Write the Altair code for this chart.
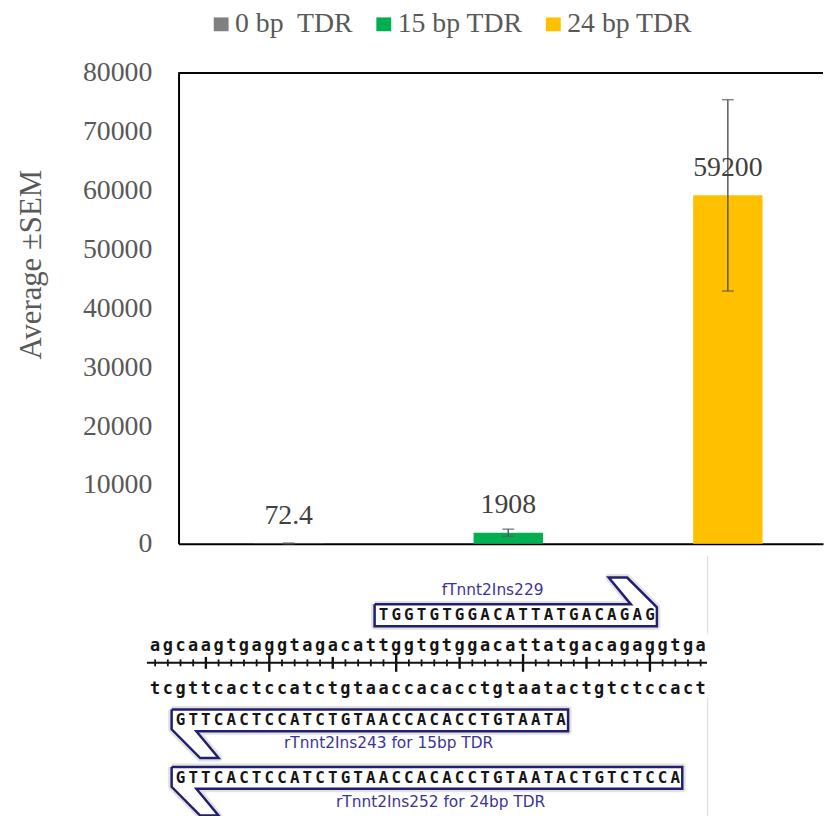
import altair as alt
import pandas as pd

# ---------------- data: bar chart ----------------
categories = ["0 bp\u00a0 TDR", "15 bp TDR", "24 bp TDR"]
averages = [72.4, 1908, 59200]
sems = [60, 590, 16250]
value_labels = ["72.4", "1908", "59200"]
bar_colors = ["#808080", "#00B050", "#FFC000"]
y_ticks = [0, 10000, 20000, 30000, 40000, 50000, 60000, 70000, 80000]

# ---------------- data: sequence diagram ----------------
top_strand = "agcaagtgaggtagacattggtgtggacattatgacagaggtga"
bottom_strand = "tcgttcactccatctgtaaccacacctgtaatactgtctccact"
primer_names = ["fTnnt2Ins229", "rTnnt2Ins243 for 15bp TDR", "rTnnt2Ins252 for 24bp TDR"]
primer_seqs = ["TGGTGTGGACATTATGACAGAG",
               "GTTCACTCCATCTGTAACCACACCTGTAATA",
               "GTTCACTCCATCTGTAACCACACCTGTAATACTGTCTCCA"]
primer_starts = [18, 2, 2]
primer_dirs = ["fwd", "rev", "rev"]

# ---------------- layout (diagram rows, in diagram units) ----------------
W, H = 650, 475
PAD_L, PAD_T, PAD_R, PAD_B = 172, 62, 2, 271
row_top, row_ruler, row_bottom = 88, 105, 131
primer_box = [(46, 68), (152, 174), (210, 232)]
label_rows = [32, 186, 245]
label_cols = [27.1, 18.9, 23.0]
hook = 27

# ---------------- bar chart ----------------
df = pd.DataFrame({
    "cat": categories,
    "avg": averages,
    "lo": [a - s for a, s in zip(averages, sems)],
    "hi": [a + s for a, s in zip(averages, sems)],
    "lab": value_labels,
})

xscale = alt.Scale(paddingInner=0.684, paddingOuter=0.3095, align=0.555)
yscale = alt.Scale(domain=[0, 80000], nice=False)
serif = "Liberation Serif"

x_axis = alt.Axis(title=None, labels=False, ticks=False,
                  domainColor="black", domainWidth=2)
y_axis = alt.Axis(values=y_ticks, format="d", grid=False, ticks=False,
                  domainColor="black", domainWidth=2,
                  labelFont=serif, labelFontSize=28, labelColor="#595959",
                  labelPadding=27,
                  title="Average ±SEM", titleFont=serif, titleFontSize=31,
                  titleFontWeight="normal", titleColor="#595959",
                  titleAngle=270, titleAlign="center", titleBaseline="middle",
                  titleX=-148, titleY=193)


def BX():
    return alt.X("cat:N", sort=categories, scale=xscale, axis=x_axis)


def BY(f):
    return alt.Y(f, type="quantitative", scale=yscale, axis=y_axis)


bars = alt.Chart(df).mark_bar().encode(
    x=BX(),
    y=BY("avg"),
    color=alt.Color("cat:N", sort=categories,
                    scale=alt.Scale(domain=categories, range=bar_colors),
                    legend=alt.Legend(orient="none", legendX=29, legendY=-63,
                                      direction="horizontal", title=None,
                                      symbolType="M-1,-0.93H1V0.93H-1Z",
                                      symbolSize=225, symbolStrokeWidth=0,
                                      symbolOpacity=1,
                                      labelFont=serif, labelFontSize=28,
                                      labelColor="#595959", labelOffset=0,
                                      columnPadding=17, padding=0)),
)

err = alt.Chart(df).mark_rule(color="#595959", strokeWidth=1.5).encode(
    x=BX(), y=BY("lo"), y2="hi:Q",
)
caps_lo = alt.Chart(df).mark_tick(color="#595959", size=12, thickness=1.5,
                                  orient="horizontal").encode(
    x=BX(), y=BY("lo"),
)
caps_hi = alt.Chart(df).mark_tick(color="#595959", size=12, thickness=1.5,
                                  orient="horizontal").encode(
    x=BX(), y=BY("hi"),
)
labels = alt.Chart(df).mark_text(font=serif, fontSize=28, color="#404040",
                                 baseline="bottom", dy=-14).encode(
    x=BX(), y=BY("avg"), text="lab:N",
)
top_border = alt.Chart(df).mark_rule(color="black", strokeWidth=1.5).encode(
    x=alt.value(0), x2=alt.value(W), y=alt.value(0)
)

bar_layer = alt.layer(bars, err, caps_lo, caps_hi, labels, top_border)

# ---------------- diagram ----------------
d_start = 490
dxs = alt.Scale(domain=[0, 44], range=[-30, 533], nice=False, zero=False)
dys = alt.Scale(domain=[0, 266], range=[d_start, d_start + 266], nice=False, zero=False)


def DX(f):
    return alt.X(f, type="quantitative", scale=dxs, axis=None)


def DY(f):
    return alt.Y(f, type="quantitative", scale=dys, axis=None)


# characters
strand_chars = []
for i, c in enumerate(top_strand):
    strand_chars.append({"bx": i + 0.5, "dy": row_top, "ch": c})
for i, c in enumerate(bottom_strand):
    strand_chars.append({"bx": i + 0.5, "dy": row_bottom, "ch": c})
strand_df = pd.DataFrame(strand_chars)

primer_chars = []
for seq, s, (t, b) in zip(primer_seqs, primer_starts, primer_box):
    for j, c in enumerate(seq):
        primer_chars.append({"bx": s + j + 0.5, "dy": (t + b) / 2, "ch": c})
primer_df = pd.DataFrame(primer_chars)

# ruler
ruler_rows = []
for i in range(len(top_strand)):
    half = 9 if (i + 1) % 10 == 0 else (6 if (i + 1) % 5 == 0 else 3.5)
    ruler_rows.append({"bx": i + 0.5, "y1": row_ruler - half, "y2": row_ruler + half,
                       "w": 2.4 if half > 3.5 else 1.8})
ruler_df = pd.DataFrame(ruler_rows)
ruler_line_df = pd.DataFrame({"x1": [-0.15], "x2": [44.0], "y": [row_ruler]})

# primer arrows
poly = []
for pid, (seq, s, d, (t, b)) in enumerate(zip(primer_seqs, primer_starts, primer_dirs, primer_box)):
    L = s - 0.2
    R = s + len(seq) + 0.05
    if d == "fwd":
        pts = [(L, t), (R - 2.05, t), (R - 3.8, t - hook), (R - 2.35, t - hook),
               (R, t + 3), (R, b), (L, b), (L, t)]
    else:
        pts = [(L, t), (R, t), (R, b), (L + 1.95, b), (L + 3.7, b + hook),
               (L + 2.25, b + hook), (L, b - 2), (L, t)]
    for o, (px, py) in enumerate(pts):
        poly.append({"pid": pid, "o": o, "bx": px, "dy": py})
poly_df = pd.DataFrame(poly)

names_df = pd.DataFrame({"bx": label_cols, "dy": label_rows, "name": primer_names})
edge_df = pd.DataFrame({"bx": [44.05, 44.05], "y1": [-3, 140], "y2": [76, 266]})

halo = alt.Chart(poly_df).mark_line(stroke="#e2e2e2", strokeWidth=7, strokeJoin="round").encode(
    x=DX("bx"), y=DY("dy"), detail="pid:N", order="o:Q")
outline = alt.Chart(poly_df).mark_line(stroke="#22206e", strokeWidth=2.5, fill="white",
                                       strokeJoin="miter").encode(
    x=DX("bx"), y=DY("dy"), detail="pid:N", order="o:Q")
edge = alt.Chart(edge_df).mark_rule(color="#dadada", strokeWidth=1).encode(
    x=DX("bx"), y=DY("y1"), y2="y2")
ruler_line = alt.Chart(ruler_line_df).mark_rule(color="#111111", strokeWidth=2).encode(
    x=DX("x1"), x2="x2", y=DY("y"))
ruler_ticks = alt.Chart(ruler_df).mark_rule(color="#111111").encode(
    x=DX("bx"), y=DY("y1"), y2="y2", strokeWidth=alt.StrokeWidth("w:Q", scale=None))
seq_text = alt.Chart(strand_df).mark_text(font="DejaVu Sans Mono", fontWeight="bold",
                                          fontSize=17, color="#151515",
                                          baseline="middle", align="center").encode(
    x=DX("bx"), y=DY("dy"), text="ch:N")
primer_text = alt.Chart(primer_df).mark_text(font="DejaVu Sans Mono", fontWeight="bold",
                                             fontSize=16, color="#151515",
                                             baseline="middle", align="center").encode(
    x=DX("bx"), y=DY("dy"), text="ch:N")
name_text = alt.Chart(names_df).mark_text(font="DejaVu Sans", fontSize=15.5,
                                          color="#3b3494", baseline="middle",
                                          align="center").encode(
    x=DX("bx"), y=DY("dy"), text="name:N")

diagram = alt.layer(edge, halo, outline, ruler_line, ruler_ticks, seq_text,
                    primer_text, name_text)

chart = alt.layer(bar_layer, diagram).resolve_scale(
    x="independent", y="independent"
).properties(
    width=W, height=H,
    autosize=alt.AutoSizeParams(type="none"),
    padding={"left": PAD_L, "top": PAD_T, "right": PAD_R, "bottom": PAD_B},
).configure_view(stroke=None)

chart.save("out.html", embed_options={"renderer": "svg", "actions": False})
